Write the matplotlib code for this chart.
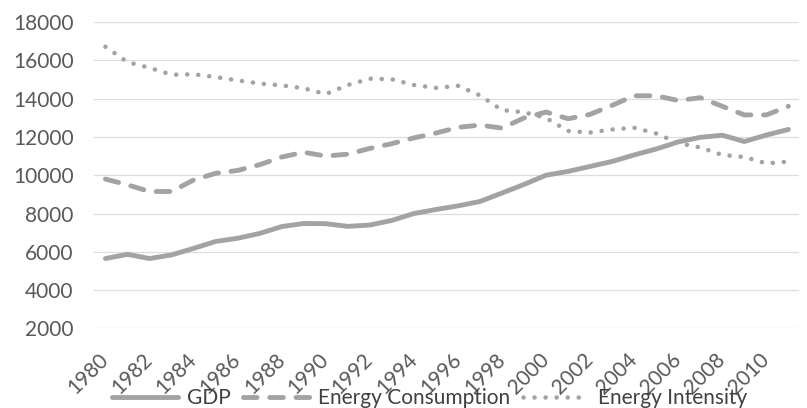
import matplotlib
matplotlib.use('Agg')
import matplotlib.pyplot as plt

# values
years = list(range(1980, 2012))
gdp = [5650, 5870, 5650, 5840, 6180, 6540, 6710, 6960, 7320, 7480,
       7470, 7330, 7400, 7640, 8000, 8210, 8400, 8630, 9070, 9520,
       10000, 10200, 10460, 10720, 11060, 11370, 11740, 11980, 12090, 11760,
       12100, 12390]
energy_consumption = [9800, 9500, 9150, 9150, 9750, 10100, 10250, 10550, 10950, 11200,
                      11000, 11100, 11400, 11650, 11950, 12200, 12500, 12620, 12460, 12990,
                      13300, 12950, 13180, 13650, 14150, 14150, 13900, 14050, 13600, 13150,
                      13150, 13600]
energy_intensity = [16710, 15910, 15610, 15250, 15270, 15130, 14950, 14790, 14690, 14540,
                    14240, 14710, 15040, 15010, 14710, 14560, 14670, 14170, 13400, 13290,
                    12990, 12310, 12230, 12390, 12480, 12180, 11680, 11450, 11060, 10950,
                    10620, 10710]
tick_years = list(range(1980, 2011, 2))
y_ticks = list(range(2000, 18001, 2000))

plt.rcParams['font.family'] = ['Lato', 'DejaVu Sans']

fig = plt.figure(figsize=(8.07, 4.08), dpi=100)
ax = fig.add_axes([0.117, 0.195, 0.8736, 0.751])

line_col = '#a3a3a3'
ax.plot(years, gdp, color=line_col, lw=3.5, solid_capstyle='round', label='GDP')
ax.plot(years, energy_consumption, color=line_col, lw=3.5, linestyle=(0, (2.8, 2.6)),
        dash_capstyle='round', label='Energy Consumption')
ax.plot(years, energy_intensity, color=line_col, lw=3.3, linestyle=(0, (0.01, 2.4)),
        dash_capstyle='round', label='Energy Intensity')

ax.set_xlim(1979.5, 2011.5)
ax.set_ylim(2000, 18000)
ax.set_yticks(y_ticks)
ax.set_xticks(tick_years)
ax.set_xticklabels([str(y) for y in tick_years], rotation=45, ha='right', va='center',
                   rotation_mode='anchor')
ax.grid(axis='y', color='#dedede', lw=0.9)
ax.set_axisbelow(True)
for s in ax.spines.values():
    s.set_visible(False)
ax.tick_params(axis='both', length=0, labelsize=15, labelcolor='#595959')
ax.tick_params(axis='y', pad=15)
ax.tick_params(axis='x', pad=20)

fig.legend(loc='center', bbox_to_anchor=(0.532, 0.024), ncol=3, frameon=False,
           fontsize=15, labelcolor='#404040', handlelength=3.2, handletextpad=0.4,
           columnspacing=0.6)

fig.savefig('out.png', dpi=100)
